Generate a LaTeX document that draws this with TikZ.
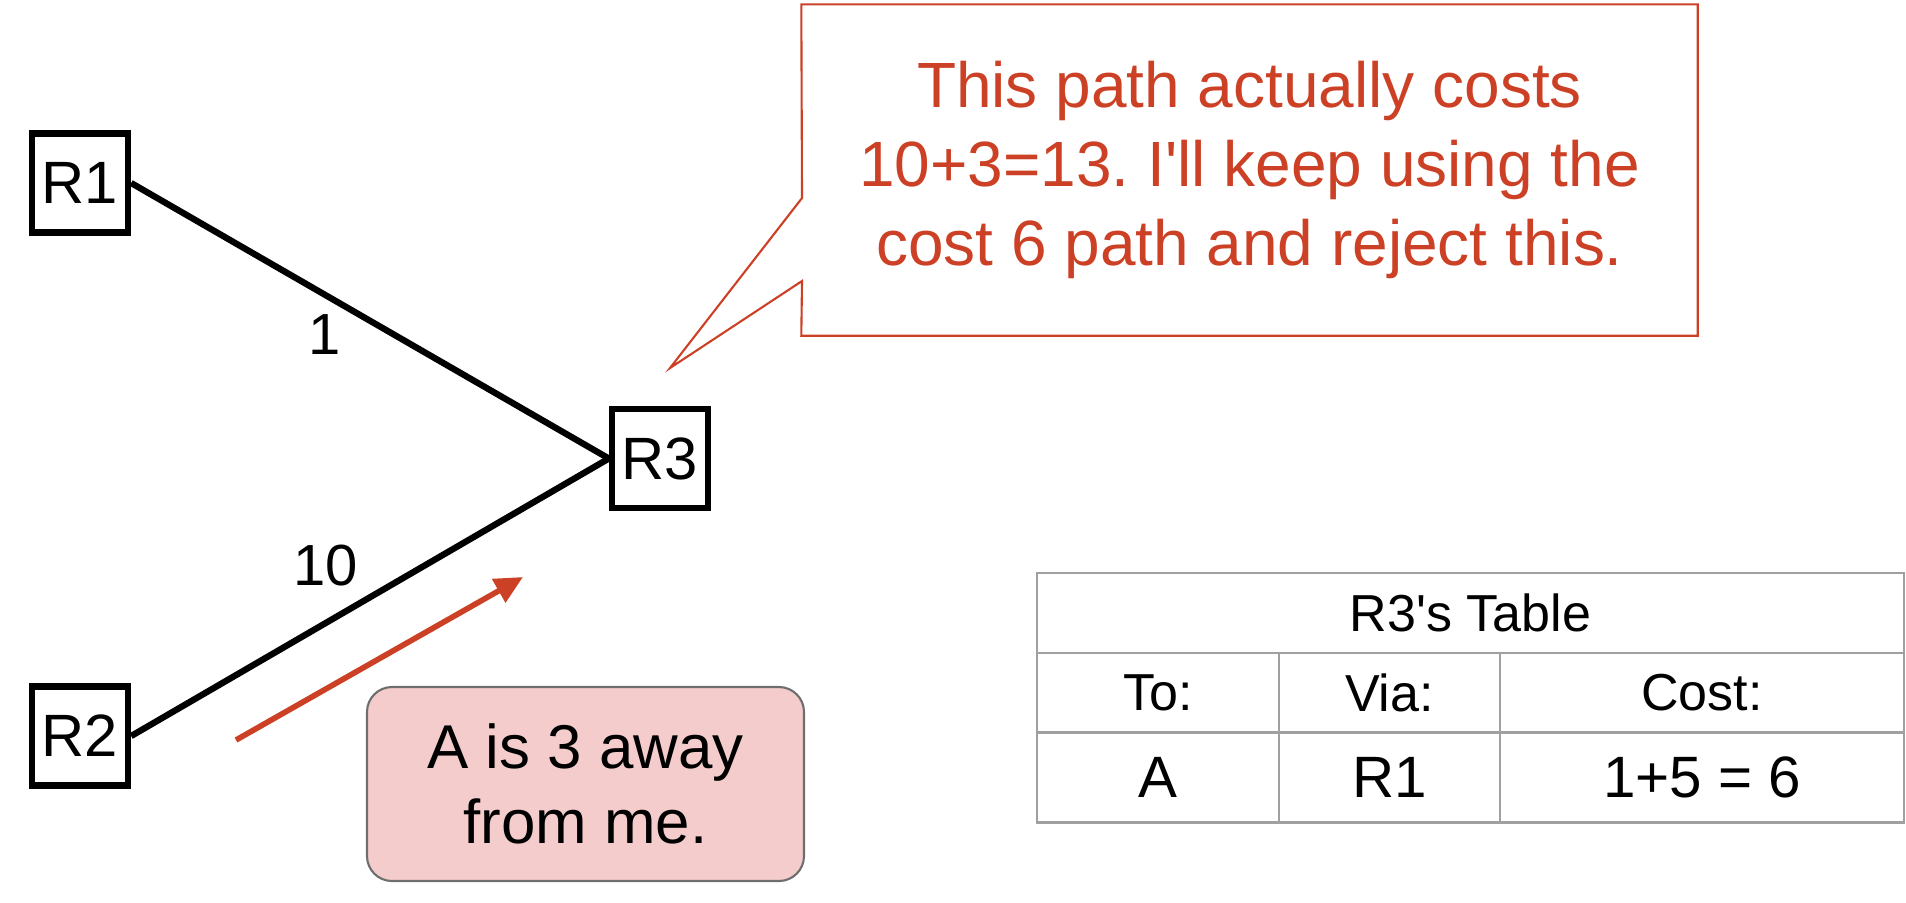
\documentclass[tikz,border=0pt]{standalone}
\usepackage{fontspec}
\setmainfont{Liberation Sans}
\usepackage{xcolor}
\usepackage{tikz}
\usetikzlibrary{positioning,calc,arrows.meta}
\definecolor{NoteRed}{RGB}{204,65,37}
\definecolor{NotePink}{RGB}{244,204,204}
\definecolor{NoteGray}{RGB}{110,110,110}
\definecolor{GridGray}{RGB}{160,160,160}
\frenchspacing

\begin{document}
\begin{tikzpicture}[
                % node styles
                router/.style={rectangle, draw=black, line width=1.8pt, fill=white, minimum width=0.96cm, minimum height=0.99cm, inner sep=0pt, font={\fontsize{17}{20}\selectfont}},
                wlabel/.style={font={\fontsize{16.5}{20}\selectfont}, inner sep=0pt},
                notebox/.style={rectangle, rounded corners=0.25cm, draw=NoteGray, line width=0.6pt, fill=NotePink, minimum width=4.37cm, minimum height=1.94cm, align=center, font={\fontsize{17.6}{21.3}\selectfont}},
                calloutbox/.style={rectangle, minimum width=8.95cm, minimum height=3.30cm, align=center, text=NoteRed, font={\fontsize{18.2}{22.5}\selectfont}},
                cell/.style={rectangle, draw=GridGray, line width=0.6pt, inner sep=0pt, font={\fontsize{14.8}{17}\selectfont}},
                bigcell/.style={cell, font={\fontsize{16.6}{19}\selectfont}},
                % edge styles
                link/.style={draw=black, line width=1.8pt},
                advert/.style={-{Triangle[length=2.8mm, width=2.6mm]}, draw=NoteRed, line width=1.6pt},
                calloutline/.style={draw=NoteRed, line width=0.6pt, line join=miter}
            ]
                \useasboundingbox (0,0) rectangle (19.06,-9.02);

                % --- ROUTERS ---
                \node[router] (r1) at (0.80, -1.83) {R1};
                \node[router] (r2) at (0.80, -7.36) {R2};
                \node[router] (r3) at (6.60, -4.585) {R3};

                % --- LINKS ---
                \draw[link] (r1.east) -- (r3.west);
                \draw[link] (r2.east) -- (r3.west);

                \node[wlabel] (w1) at (3.25, -3.35) {1};
                \node[wlabel] (w10) at (3.26, -5.66) {10};

                % --- ADVERTISEMENT ---
                \coordinate (adv0) at (2.36, -7.40);
                \coordinate (adv1) at (5.23, -5.77);
                \draw[advert] (adv0) -- (adv1);

                \node[notebox] (msg) at (5.855, -7.84) {A is 3 away\\from me.};

                % --- CALLOUT ---
                \node[calloutbox] (callout) at (12.495, -1.70) {This path actually costs\\10+3=13. I\textquotesingle ll keep using the\\cost 6 path and reject this.};
                \coordinate (ptip) at (6.70, -3.68);
                \draw[calloutline] (callout.north west) -- (callout.north east) -- (callout.south east) -- (callout.south west)
                    -- (8.02, -2.81) -- (ptip) -- (8.02, -1.98) -- cycle;

                % --- TABLE ---
                \node[cell, minimum width=8.67cm, minimum height=0.80cm] (thead) at (14.705, -6.13) {R3\textquotesingle s Table};

                \node[cell, minimum width=2.42cm, minimum height=0.79cm] (hto) at (11.58, -6.925) {To:};
                \node[cell, minimum width=2.21cm, minimum height=0.79cm] (hvia) at (13.895, -6.925) {Via:};
                \node[cell, minimum width=4.04cm, minimum height=0.79cm] (hcost) at (17.02, -6.925) {Cost:};

                \node[bigcell, minimum width=2.42cm, minimum height=0.90cm] (vto) at (11.58, -7.775) {A};
                \node[bigcell, minimum width=2.21cm, minimum height=0.90cm] (vvia) at (13.895, -7.775) {R1};
                \node[bigcell, minimum width=4.04cm, minimum height=0.90cm] (vcost) at (17.02, -7.775) {1+5 = 6};

            \end{tikzpicture}
\end{document}
